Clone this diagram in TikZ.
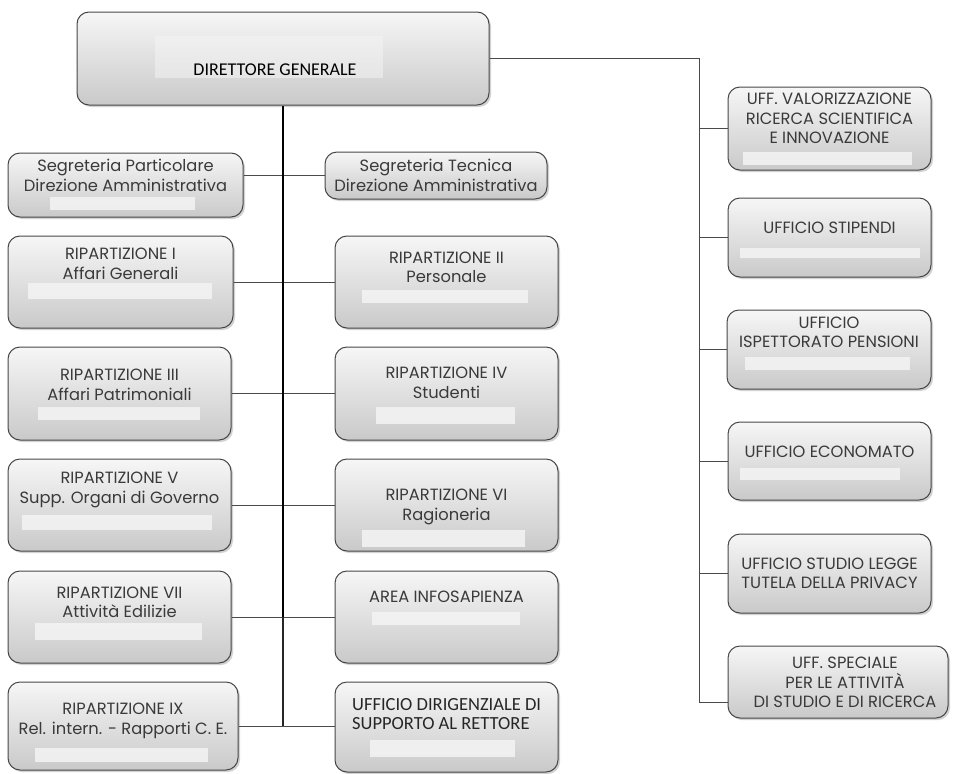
\documentclass[tikz,border=0pt]{standalone}
\usepackage{fontspec}
\setmainfont{Poppins}
\newfontfamily\cfont{Carlito}
\usetikzlibrary{shadows}
\definecolor{boxline}{HTML}{474747}
\definecolor{txtc}{HTML}{3A3A3A}
\definecolor{connc}{HTML}{4A4A4A}
\tikzset{
  box/.style={draw=boxline, line width=1pt, rounded corners=12pt,
    top color=gray!7, bottom color=gray!42,
    drop shadow={shadow xshift=2pt, shadow yshift=-2pt, opacity=0.35}},
  patchc/.style={fill=gray!9, fill opacity=0.85, draw=none},
  txt/.style={text=txtc, align=center, inner sep=0pt, font=\fontsize{16.3}{19.5}\selectfont},
  conn/.style={draw=connc, line width=1pt},
}
\newcommand{\orgbox}[5]{%
  \pgfmathsetmacro\bw{#4-#2}\pgfmathsetmacro\bh{#5-#3}%
  \pgfmathsetmacro\bx{(#2+#4)/2}\pgfmathsetmacro\by{(#3+#5)/2}%
  \node[box, minimum width=\bw pt, minimum height=\bh pt, inner sep=0pt] (#1) at (\bx,\by) {};}
\newcommand{\patch}[4]{\fill[patchc] (#1,#2) rectangle (#3,#4);}
\begin{document}
\begin{tikzpicture}[x=1pt, y=-1pt]
\useasboundingbox (0,0) rectangle (962,774);
\fill[white] (0,0) rectangle (962,774);
% top box
\orgbox{dg}{77}{12}{489}{105}
\fill[gray!8, fill opacity=0.5] (155,36) rectangle (383,78);
\node[text=black, inner sep=0pt, font=\cfont\fontsize{18}{20}\selectfont] (tdg) at (275,70) {DIRETTORE GENERALE};
% left column
\orgbox{sp}{8}{153}{243}{217}
\patch{50}{197}{195}{210}
\node[txt] (tsp) at (125.5,175.5) {Segreteria Particolare\\Direzione Amministrativa};
\orgbox{r1}{8}{236}{233}{328}
\patch{28}{283}{212}{299}
\node[txt] (tr1) at (120.5,264) {RIPARTIZIONE I\\Affari Generali};
\orgbox{r3}{8}{347}{231}{440}
\patch{38}{407}{200}{420}
\node[txt] (tr3) at (119.5,385) {RIPARTIZIONE III\\Affari Patrimoniali};
\orgbox{r5}{8}{459}{231}{551}
\patch{22}{515}{212}{530}
\node[txt] (tr5) at (119.5,490) {RIPARTIZIONE V\\Supp. Organi di Governo};
\orgbox{r7}{8}{571}{231}{663}
\patch{35}{623}{202}{640}
\node[txt] (tr7) at (119.5,602.5) {RIPARTIZIONE VII\\Attività Edilizie};
\orgbox{r9}{8}{682}{238}{770}
\patch{35}{748}{208}{762}
\node[txt] (tr9) at (123,721) {RIPARTIZIONE IX\\Rel. intern. - Rapporti C. E.};
% middle column
\orgbox{st}{325}{152}{547}{199}
\node[txt] (tst) at (436,175.5) {Segreteria Tecnica\\Direzione Amministrativa};
\orgbox{r2}{335}{236}{558}{328}
\patch{362}{290}{528}{303}
\node[txt] (tr2) at (446.5,267.5) {RIPARTIZIONE II\\Personale};
\orgbox{r4}{335}{347}{558}{440}
\patch{376}{407}{515}{424}
\node[txt] (tr4) at (446.5,383) {RIPARTIZIONE IV\\Studenti};
\orgbox{r6}{335}{459}{558}{551}
\patch{362}{530}{525}{547}
\node[txt] (tr6) at (446.5,507) {RIPARTIZIONE VI\\Ragioneria};
\orgbox{ai}{335}{571}{558}{663}
\patch{372}{612}{520}{625}
\node[txt] (tai) at (446.5,597) {AREA INFOSAPIENZA};
\orgbox{ud}{335}{682}{558}{772}
\patch{370}{740}{515}{757}
\node[text=black!85, align=left, anchor=west, inner sep=0pt, font=\cfont\fontsize{18.5}{18.5}\selectfont] (tud) at (352,714) {UFFICIO DIRIGENZIALE DI\\SUPPORTO AL RETTORE};
% right column
\orgbox{uv}{728}{87}{931}{170}
\patch{743}{152}{912}{165}
\node[txt] (tuv) at (829.5,118.5) {UFF. VALORIZZAZIONE\\RICERCA SCIENTIFICA\\E INNOVAZIONE};
\orgbox{us}{728}{198}{931}{277}
\patch{740}{248}{920}{258}
\node[txt] (tus) at (829.5,228) {UFFICIO STIPENDI};
\orgbox{ui}{727}{310}{931}{389}
\patch{745}{357}{910}{370}
\node[txt] (tui) at (829,332.5) {UFFICIO\\ISPETTORATO PENSIONI};
\orgbox{ue}{728}{422}{931}{500}
\patch{740}{468}{900}{480}
\node[txt] (tue) at (829.5,452) {UFFICIO ECONOMATO};
\orgbox{up}{728}{534}{931}{613}
\node[txt] (tup) at (829.5,573.5) {UFFICIO STUDIO LEGGE\\TUTELA DELLA PRIVACY};
\orgbox{ux}{728}{646}{948}{718}
\node[txt] (tux) at (845,682.5) {UFF. SPECIALE\\PER LE ATTIVITÀ\\DI STUDIO E DI RICERCA};
% coordinates
\coordinate (rtop) at (699,58.5);
\coordinate (rbot) at (699,702);
% connectors left/middle
\draw[conn] (sp.east |- st.west) -- (st.west);
\draw[conn] (r1.east) -- (r2.west);
\draw[conn] (r3.east) -- (r4.west);
\draw[conn] (r5.east) -- (r6.west);
\draw[conn] (r7.east) -- (ai.west);
\draw[conn] (r9.east) -- (r9.east -| ud.west);
% trunk
\draw[black, line width=2.8pt] (dg.south) -- (dg.south |- r3.east);
\draw[black, line width=2pt] (dg.south |- r3.east) -- (dg.south |- r7.east);
\draw[black!85, line width=1.4pt] (dg.south |- r7.east) -- (dg.south |- r9.east);
% right side
\draw[conn] (dg.east) -- (rtop) -- (rbot) -- (rbot -| ux.west);
\draw[conn] (rtop |- uv.west) -- (uv.west);
\draw[conn] (rtop |- us.west) -- (us.west);
\draw[conn] (rtop |- ui.west) -- (ui.west);
\draw[conn] (rtop |- ue.west) -- (ue.west);
\draw[conn] (rtop |- up.west) -- (up.west);
\end{tikzpicture}
\end{document}
